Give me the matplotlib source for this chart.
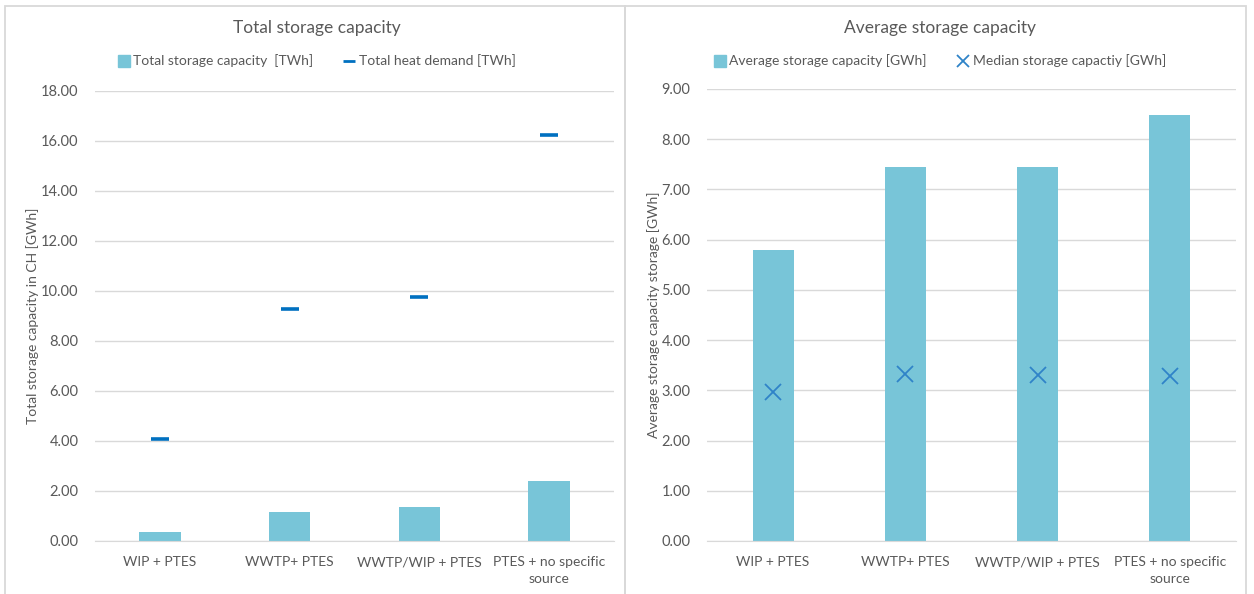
import numpy as np
import matplotlib.pyplot as plt
from matplotlib.lines import Line2D
from matplotlib.patches import Rectangle

plt.rcParams['font.family'] = ['Lato', 'DejaVu Sans']

# Datos
categorias = ['WIP + PTES', 'WWTP+ PTES', 'WWTP/WIP + PTES', 'PTES + no specific\nsource']
capacidad_total = [0.36, 1.18, 1.35, 2.41]       # TWh
demanda_calor = [4.10, 9.27, 9.75, 16.25]        # TWh
capacidad_media = [5.80, 7.45, 7.44, 8.49]       # GWh
capacidad_mediana = [2.97, 3.32, 3.30, 3.29]     # GWh

color_barra = '#78C5D8'
color_azul = '#0070C0'
color_x = '#2F83C8'
gris_texto = '#595959'
gris_grid = '#D9D9D9'

fig = plt.figure(figsize=(12.54, 5.94), dpi=100)

# marcos de los dos paneles
for x0, x1 in [(5, 625), (625, 1246)]:
    fig.add_artist(Rectangle((x0 / 1254, -0.01), (x1 - x0) / 1254, 1 - 5.5 / 594 + 0.01,
                             transform=fig.transFigure, fill=False,
                             edgecolor=gris_grid, linewidth=1.3))

ax1 = fig.add_axes([95 / 1254, 1 - 541 / 594, (614 - 95) / 1254, (541 - 91) / 594])
ax2 = fig.add_axes([707 / 1254, 1 - 541 / 594, (1236 - 707) / 1254, (541 - 89) / 594])

x = np.arange(len(categorias))

# Panel izquierdo: capacidad total y demanda de calor
ax1.bar(x, capacidad_total, width=0.32, color=color_barra, zorder=2)
ax1.plot(x, demanda_calor, linestyle='none', marker='_', markersize=13,
         markeredgewidth=2.6, color=color_azul, zorder=3)
ax1.set_ylim(0, 18)
ax1.set_yticks(np.arange(0, 18.1, 2))
ax1.set_ylabel('Total storage capacity in CH [GWh]', color=gris_texto, fontsize=10, labelpad=1)

# Panel derecho: capacidad media y mediana
ax2.bar(x, capacidad_media, width=0.31, color=color_barra, zorder=2)
ax2.plot(x, capacidad_mediana, linestyle='none', marker='x', markersize=12,
         markeredgewidth=1.3, color=color_x, zorder=3)
ax2.set_ylim(0, 9)
ax2.set_yticks(np.arange(0, 9.1, 1))
ax2.set_ylabel('Average storage capacity storage [GWh]', color=gris_texto, fontsize=10, labelpad=1)

for ax in (ax1, ax2):
    ax.set_xlim(-0.5, len(categorias) - 0.5)
    ax.set_xticks(x)
    ax.set_xticklabels(categorias, fontsize=10, color=gris_texto, linespacing=1.45)
    ax.yaxis.set_major_formatter(plt.FormatStrFormatter('%.2f'))
    ax.tick_params(axis='y', labelsize=10.5, colors=gris_texto, length=0, pad=12)
    ax.tick_params(axis='x', length=0, pad=11)
    ax.grid(axis='y', color=gris_grid, linewidth=1, zorder=0)
    ax.set_axisbelow(True)
    for s in ['top', 'right', 'left']:
        ax.spines[s].set_visible(False)
    ax.spines['bottom'].set_color(gris_grid)

# Titulos
fig.text(317 / 1254, 1 - 28 / 594, 'Total storage capacity', ha='center', va='center',
         fontsize=12.5, color=gris_texto)
fig.text(940 / 1254, 1 - 28 / 594, 'Average storage capacity', ha='center', va='center',
         fontsize=12.5, color=gris_texto)

# Leyendas
h1 = [Line2D([], [], linestyle='none', marker='s', markersize=8, color=color_barra),
      Line2D([], [], linestyle='none', marker='_', markersize=9, markeredgewidth=2, color=color_azul)]
fig.legend(h1, ['Total storage capacity  [TWh]', 'Total heat demand [TWh]'],
           loc='center', bbox_to_anchor=(317 / 1254, 1 - 61 / 594), ncol=2, frameon=False,
           fontsize=10, labelcolor=gris_texto, handlelength=0.8, handletextpad=0.3,
           columnspacing=2.2)

h2 = [Line2D([], [], linestyle='none', marker='s', markersize=8, color=color_barra),
      Line2D([], [], linestyle='none', marker='x', markersize=8, markeredgewidth=1.3, color=color_x)]
fig.legend(h2, ['Average storage capacity [GWh]', 'Median storage capactiy [GWh]'],
           loc='center', bbox_to_anchor=(940 / 1254, 1 - 61 / 594), ncol=2, frameon=False,
           fontsize=10, labelcolor=gris_texto, handlelength=0.8, handletextpad=0.3,
           columnspacing=2.2)

fig.savefig('out.png', dpi=100, facecolor='white')
